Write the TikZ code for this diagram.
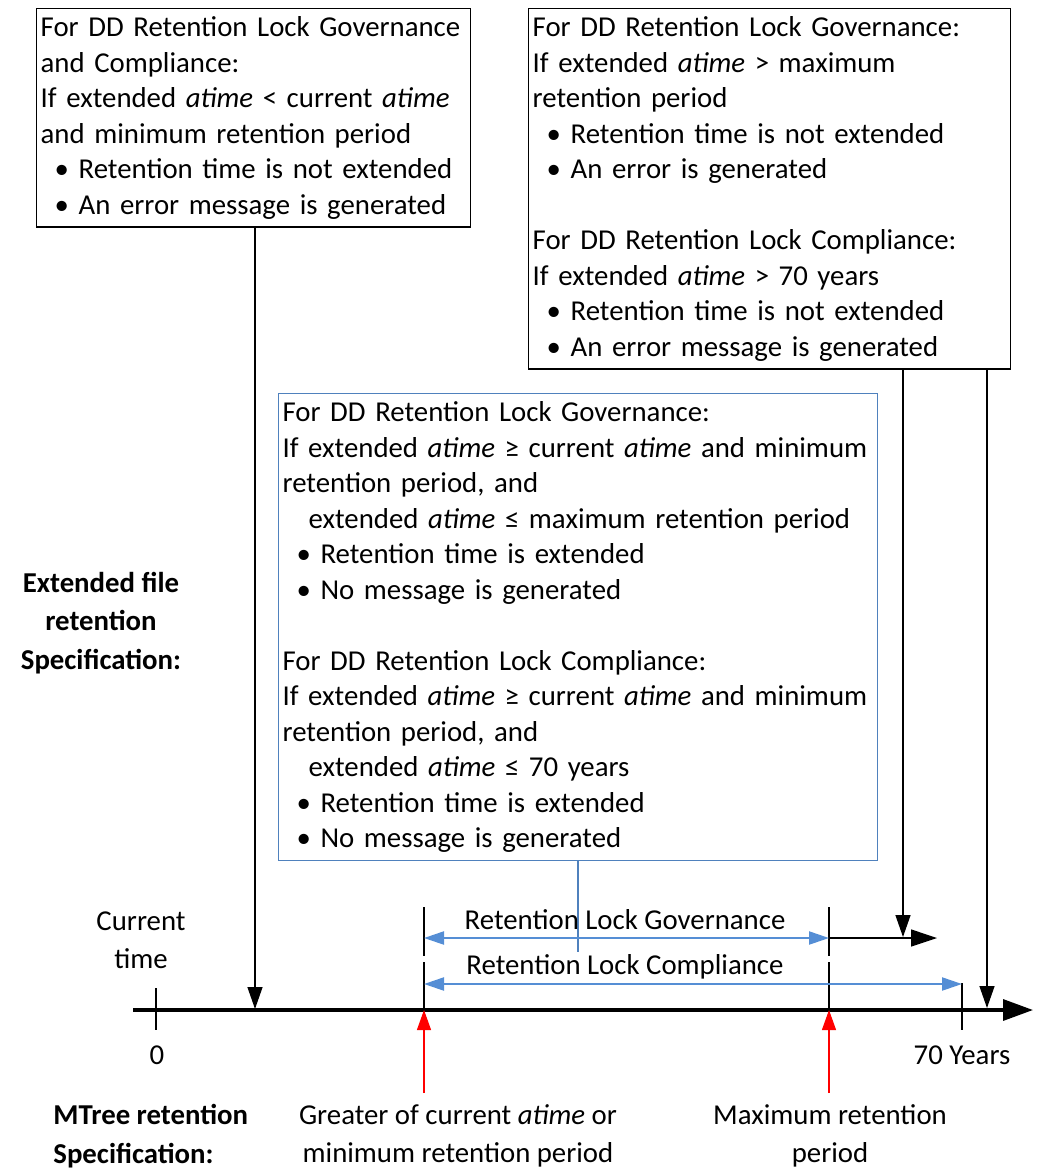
\documentclass[tikz,border=0pt]{standalone}
\usepackage{fontspec}
\setmainfont{Carlito}
\usetikzlibrary{arrows.meta}
\definecolor{boxblue}{RGB}{79,129,189}
\definecolor{arrblue}{RGB}{85,142,213}
\begin{document}
\begin{tikzpicture}[x=0.5pt,y=-0.5pt,
  every node/.style={font=\fontsize{14.4}{17.75}\selectfont},
  txtbox/.style={draw, line width=0.7pt, anchor=north west, align=left, inner xsep=2pt, inner ysep=4pt},
  vline/.style={line width=0.6pt},
  blackarr/.style={line width=0.65pt, -{Triangle[length=11pt,width=7.5pt]}},
  bluearr/.style={arrblue, line width=1.1pt, {Triangle[length=10pt,width=6.5pt]}-{Triangle[length=10pt,width=6.5pt]}},
  redarr/.style={red, line width=0.6pt, -{Triangle[length=10pt,width=7pt]}},
  lbl/.style={align=center, inner sep=0pt, font=\fontsize{14.4}{19}\selectfont},
  blbl/.style={align=center, inner sep=0pt, font=\fontsize{14.4}{19.25}\selectfont\bfseries}
]
\useasboundingbox (0,0) rectangle (1039,1169);

% boxes
\node[txtbox, text width=213pt] (b1) at (36,8) {For DD Retention Lock Governance\\
and Compliance:\\
If extended \textit{atime} < current \textit{atime}\\
and minimum retention period\\
\hspace*{7pt}• Retention time is not extended\\
\hspace*{7pt}• An error message is generated};

\node[txtbox, text width=237pt] (b2) at (528,8) {For DD Retention Lock Governance:\\
If extended \textit{atime} > maximum\\
retention period\\
\hspace*{7pt}• Retention time is not extended\\
\hspace*{7pt}• An error is generated\\[17.75pt]
For DD Retention Lock Compliance:\\
If extended \textit{atime} > 70 years\\
\hspace*{7pt}• Retention time is not extended\\
\hspace*{7pt}• An error message is generated};

\node[txtbox, draw=boxblue, line width=0.6pt, text width=295.5pt] (b3) at (278,393) {For DD Retention Lock Governance:\\
If extended \textit{atime} ≥ current \textit{atime} and minimum\\
retention period, and\\
\hspace*{13pt}extended \textit{atime} ≤ maximum retention period\\
\hspace*{7pt}• Retention time is extended\\
\hspace*{7pt}• No message is generated\\[17.75pt]
For DD Retention Lock Compliance:\\
If extended \textit{atime} ≥ current \textit{atime} and minimum\\
retention period, and\\
\hspace*{13pt}extended \textit{atime} ≤ 70 years\\
\hspace*{7pt}• Retention time is extended\\
\hspace*{7pt}• No message is generated};

% coordinates on the time axis
\coordinate (axL) at (133,1010);
\coordinate (axR) at (1033,1010);
\coordinate (b1end) at (255,1009);
\coordinate (gtop) at (424,907);
\coordinate (gmid1) at (424,956);
\coordinate (gmid2) at (424,962);
\coordinate (gbot) at (424,1010);
\coordinate (mtop) at (829,907);
\coordinate (mmid1) at (829,956);
\coordinate (mmid2) at (829,962);
\coordinate (mbot) at (829,1010);
\coordinate (zt) at (156,988);
\coordinate (zb) at (156,1030);
\coordinate (st) at (962,983);
\coordinate (sb) at (962,1030);
\coordinate (gl) at (424,938);
\coordinate (gr) at (829,938);
\coordinate (gx) at (937,938);
\coordinate (cl) at (424,984);
\coordinate (cr) at (962,984);
\coordinate (b2a) at (903,937);
\coordinate (b2b) at (987,1008);
\coordinate (b3end) at (578,952);
\coordinate (r1) at (424,1093);
\coordinate (r2) at (829,1093);

% axis
\draw[line width=1.7pt, -{Triangle[length=15pt,width=10.5pt]}] (axL) -- (axR);
\draw[vline] (zt) -- (zb);
\draw[vline] (st) -- (sb);
\draw[vline] (gtop) -- (gmid1);
\draw[vline] (gmid2) -- (gbot);
\draw[vline] (mtop) -- (mmid1);
\draw[vline] (mmid2) -- (mbot);

% connectors
\draw[blackarr] (b1.south -| b1end) -- (b1end);
\draw[blackarr] (b2.south -| b2a) -- (b2a);
\draw[blackarr] (b2.south -| b2b) -- (b2b);
\draw[boxblue, line width=0.6pt] (b3.south -| b3end) -- (b3end);
\draw[bluearr] (gl) -- (gr);
\draw[line width=0.7pt, -{Triangle[length=13pt,width=8.5pt]}] (gr) -- (gx);
\draw[bluearr] (cl) -- (cr);
\draw[redarr] (r1) -- (gbot);
\draw[redarr] (r2) -- (mbot);

% labels
\node[lbl] (ct) at (141,940) {Current\\time};
\node[lbl] (l0) at (157,1055) {0};
\node[lbl] (l70) at (962,1055) {70 Years};
\node[lbl] (lgov) at (625,920) {Retention Lock Governance};
\node[lbl] (lcom) at (625,967) {Retention Lock Compliance};
\node[lbl] (lg) at (458,1136) {Greater of current \textit{atime} or\\minimum retention period};
\node[lbl] (lm) at (830,1136) {Maximum retention\\period};
\node[blbl, align=left, anchor=west] (lmt) at (53,1136) {MTree retention\\Specification:};
\node[blbl] (lext) at (101,623) {Extended file\\retention\\Specification:};
\end{tikzpicture}
\end{document}
